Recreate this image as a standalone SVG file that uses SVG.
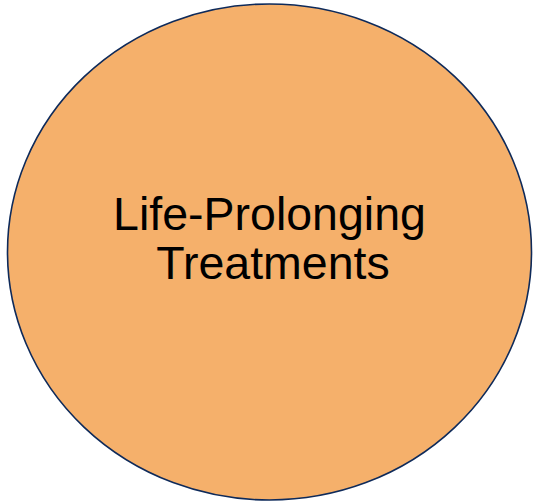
<svg xmlns="http://www.w3.org/2000/svg" width="535" height="504" viewBox="0 0 535 504">
  <style>
    .bubble { fill: #F5B06B; stroke: #0E2A5A; stroke-width: 1.6; }
    .label { font-family: "Liberation Sans", Arial, sans-serif; font-size: 46.5px; fill: #000000; text-anchor: middle; }
  </style>
  <rect width="535" height="504" fill="#FFFFFF"/>
  <g id="life-prolonging-treatments">
    <ellipse class="bubble" cx="269.5" cy="252" rx="262" ry="248"/>
    <text class="label" x="269.5" y="230">Life-Prolonging</text>
    <text class="label" x="273" y="279">Treatments</text>
  </g>
</svg>
